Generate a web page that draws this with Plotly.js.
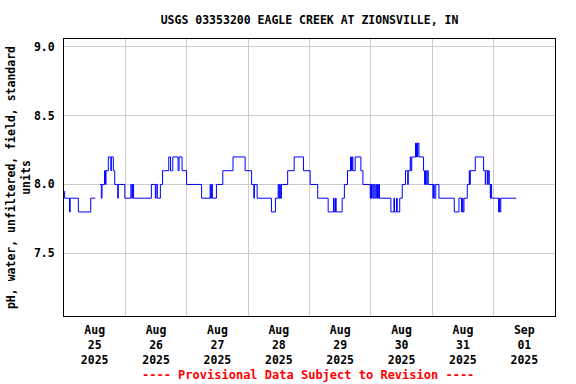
<!DOCTYPE html>
<html><head><meta charset="utf-8">
<script src="https://cdn.plot.ly/plotly-3.0.1.min.js"></script>
<style>html,body{margin:0;padding:0;background:#fff}#chart{width:576px;height:384px}</style>
</head><body><div id="chart"></div>
<script>
// Data (hours since 2025-08-25 00:00, step changes of pH)
const seriesStartUTC = Date.UTC(2025, 7, 25, 0, 0, 0);
const hoursFromStart = [
  0, 0.25, 2.15, 2.43, 5.6, 10.45, 12.25, 12.3, 14.09, 14.6, 14.87, 15.85, 16.24, 16.43, 17.33, 18.31, 18.51, 19.29, 19.84, 21.01, 21.25, 23.79,
  26.14, 26.53, 26.8, 27.2, 34.16, 35.73, 36.0, 36.51, 37.68, 38.54, 40.97, 41.67, 42.53, 44.61, 45.0, 46.17, 47.93,
  53.8, 57.13, 57.4, 57.72, 58.03, 59.6, 62.1, 66.09, 70.83,
  73.37, 74.23, 74.47, 75.52, 81.12, 82.68, 83.74, 84.05, 84.33, 84.6, 85.03, 87.46, 90.0, 93.64,
  96.26, 99.2, 103.3, 105.38, 105.65, 106.16, 106.43, 108.78, 109.64, 110.86, 112.03, 112.42, 112.7, 112.97, 113.87, 116.1, 116.88,
  119.74, 120.01, 120.25, 120.52, 120.91, 121.3, 121.69, 122.09, 122.36, 122.6, 122.87, 123.14, 123.38, 127.84, 129.01, 129.25, 130.03, 130.3, 131.28, 132.26, 133.55, 134.41, 134.61, 135.39, 135.66, 135.98, 137.46, 137.66, 137.86, 138.13, 138.33, 138.8, 140.6, 140.99, 141.38, 141.65, 142.04, 142.43,
  144.27, 144.5, 144.78, 145.37, 146.62, 152.61, 154.45, 155.46, 155.74, 156.01, 156.4, 157.7, 158.48, 158.68, 158.87, 160.83, 164.08, 164.74, 164.94, 165.64, 165.91, 166.3, 166.7, 166.89, 167.2,
  169.94, 170.22, 170.41, 170.8, 176.87
];
const phValues = [
  7.95, 7.9, 7.8, 7.9, 7.8, 7.9, 7.9, null, 8.0, 7.9, 8.0, 8.1, 8.0, 8.1, 8.2, 8.1, 8.2, 8.1, 8.0, 7.9, 8.0, 7.9,
  8.0, 7.9, 8.0, 7.9, 8.0, 7.9, 8.0, 7.9, 8.0, 8.1, 8.2, 8.1, 8.2, 8.1, 8.2, 8.1, 8.0,
  7.9, 8.0, 7.9, 8.0, 7.9, 8.0, 8.1, 8.2, 8.1,
  8.0, 7.9, 8.0, 7.9, 7.8, 7.9, 8.0, 7.9, 8.0, 7.9, 8.0, 8.1, 8.2, 8.1,
  8.0, 7.9, 7.8, 7.9, 7.8, 7.9, 7.8, 7.9, 8.0, 8.1, 8.2, 8.1, 8.2, 8.1, 8.2, 8.1, 8.0,
  7.9, 8.0, 7.9, 8.0, 7.9, 8.0, 7.9, 8.0, 7.9, 8.0, 7.9, 8.0, 7.9, 7.8, 7.9, 7.8, 7.9, 7.8, 7.9, 8.0, 8.1, 8.0, 8.1, 8.2, 8.1, 8.2, 8.3, 8.2, 8.3, 8.2, 8.3, 8.2, 8.1, 8.0, 8.1, 8.0, 8.1, 8.0,
  7.9, 8.0, 7.9, 8.0, 7.9, 7.8, 7.9, 7.8, 7.9, 7.8, 7.9, 8.0, 8.1, 8.0, 8.1, 8.2, 8.1, 8.0, 8.1, 8.0, 8.1, 8.0, 7.9, 8.0, 7.9,
  7.8, 7.9, 7.8, 7.9, 7.9
];
const dayGridDates = ['2025-08-26','2025-08-27','2025-08-28','2025-08-29','2025-08-30','2025-08-31','2025-09-01'];
const dayLabelDates = ['2025-08-25 12:00','2025-08-26 12:00','2025-08-27 12:00','2025-08-28 12:00','2025-08-29 12:00','2025-08-30 12:00','2025-08-31 12:00','2025-09-01 12:00'];
const dayLabels = ['Aug<br>25<br>2025','Aug<br>26<br>2025','Aug<br>27<br>2025','Aug<br>28<br>2025','Aug<br>29<br>2025','Aug<br>30<br>2025','Aug<br>31<br>2025','Sep<br>01<br>2025'];
const yTickVals = [7.5, 8.0, 8.5, 9.0];
const yTickText = ['7.5', '8.0', '8.5', '9.0'];

function toDateString(h) {
  return new Date(seriesStartUTC + h * 3600000).toISOString().replace('Z', '').replace('T', ' ');
}
const xDates = hoursFromStart.map(toDateString);

const monoBold = {family: 'DejaVu Sans Mono', size: 11.5, color: '#000', weight: 'bold'};

const trace = {
  x: xDates, y: phValues, type: 'scatter', mode: 'lines',
  line: {color: '#0000ff', width: 1, shape: 'hv'},
  connectgaps: false, hoverinfo: 'skip'
};

const layout = {
  width: 576, height: 384,
  margin: {l: 64, r: 21, t: 39, b: 68, pad: 0},
  paper_bgcolor: '#fff', plot_bgcolor: '#fff',
  showlegend: false,
  title: {text: 'USGS 03353200 EAGLE CREEK AT ZIONSVILLE, IN', font: monoBold,
          x: 0.5, xanchor: 'center', xref: 'paper', y: 1 - 20/384, yanchor: 'middle', yref: 'container'},
  xaxis: {
    type: 'date', range: ['2025-08-25 00:00', '2025-09-02 00:00'],
    tickmode: 'array', tickvals: dayLabelDates, ticktext: dayLabels,
    showgrid: false, zeroline: false, ticks: '', ticklabelstandoff: 3,
    tickfont: monoBold, tickangle: 0,
    showline: true, linecolor: '#000', linewidth: 1, mirror: true,
    minor: {tickmode: 'array', tickvals: dayGridDates, showgrid: true, gridcolor: '#cccccc', gridwidth: 1, ticks: ''}
  },
  yaxis: {
    range: [7.043, 9.058], tickmode: 'array', tickvals: yTickVals, ticktext: yTickText,
    showgrid: true, gridcolor: '#cccccc', gridwidth: 1, zeroline: false, ticks: '',
    ticklabelstandoff: 6, tickfont: monoBold,
    showline: true, linecolor: '#000', linewidth: 1, mirror: true,
    title: {text: 'pH, water, unfiltered, field, standard<br>units', font: monoBold, standoff: 0}
  },
  annotations: [{
    text: '---- Provisional Data Subject to Revision ----', xref: 'paper', yref: 'paper',
    x: 0.4975, y: -(375 - 316) / 277, xanchor: 'center', yanchor: 'middle', showarrow: false,
    font: {family: 'DejaVu Sans Mono', size: 12, color: '#ff0000', weight: 'bold'}
  }]
};

Plotly.newPlot('chart', [trace], layout, {staticPlot: true, displayModeBar: false});
</script>
</body></html>
